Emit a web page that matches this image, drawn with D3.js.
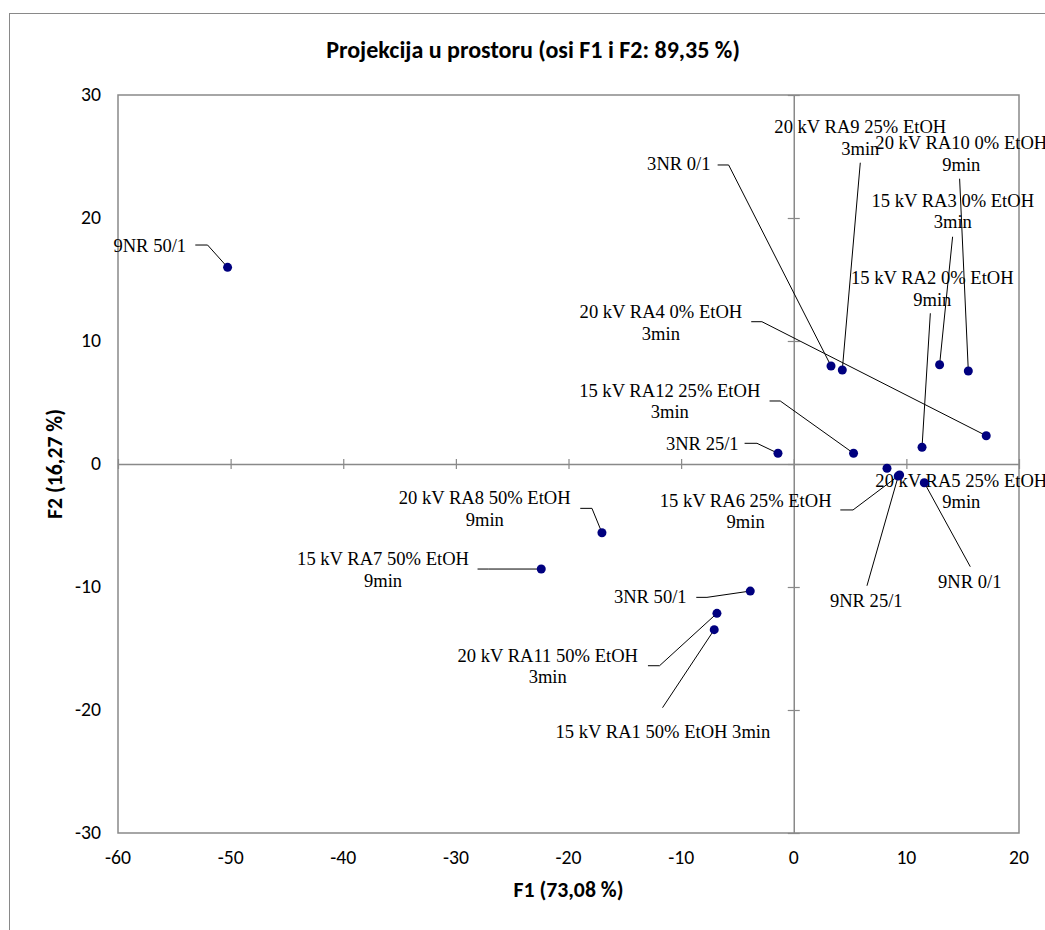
<!DOCTYPE html>
<html><head><meta charset="utf-8">
<script src="https://cdn.jsdelivr.net/npm/d3@7"></script>
<style>body{margin:0;background:#fff}</style></head>
<body>
<svg id="c" width="1045" height="930"></svg>
<script>
// ---- data ----
const labels = [
  "9NR 50/1", "3NR 0/1", "20 kV RA9 25% EtOH|3min", "20 kV RA10 0% EtOH|9min",
  "15 kV RA3 0% EtOH|3min", "15 kV RA2 0% EtOH|9min", "20 kV RA4 0% EtOH|3min",
  "15 kV RA12 25% EtOH|3min", "3NR 25/1", "20 kV RA5 25% EtOH|9min",
  "15 kV RA6 25% EtOH|9min", "9NR 25/1", "9NR 0/1", "20 kV RA8 50% EtOH|9min",
  "15 kV RA7 50% EtOH|9min", "3NR 50/1", "20 kV RA11 50% EtOH|3min", "15 kV RA1 50% EtOH 3min"
];
const f1 = [-50.27, 3.31, 4.31, 15.50, 12.95, 11.39, 17.09, 5.31, -1.40, 8.28, 9.40, 9.28, 11.59, -17.03, -22.42, -3.86, -6.82, -7.06];
const f2 = [15.99, 7.97, 7.64, 7.56, 8.07, 1.36, 2.30, 0.87, 0.87, -0.35, -0.89, -0.98, -1.52, -5.59, -8.54, -10.33, -12.14, -13.47];
const xTicks = [-60, -50, -40, -30, -20, -10, 0, 10, 20];
const yTicks = [-30, -20, -10, 0, 10, 20, 30];
const titleText = "Projekcija u prostoru (osi F1 i F2: 89,35 %)";
const xTitleText = "F1 (73,08 %)";
const yTitleText = "F2 (16,27 %)";

// ---- label layout (pixel offsets relative to each point) ----
const labelLayout = [
  {lab: [-77.8, -15.6], lead: [[-32.3, -22.3], [-20, -22.3]]},
  {lab: [-152.2, -196], lead: [[-113.4, -201], [-102.4, -201]]},
  {lab: [18, -236.7], lead: [[18, -207.3]]},
  {lab: [-7, -221.7], lead: [[-8.7, -192.3]]},
  {lab: [13.2, -158], lead: [[13, -128]]},
  {lab: [10.3, -163], lead: [[8.3, -134]]},
  {lab: [-325.3, -117.4], lead: [[-235, -114], [-224.3, -114]]},
  {lab: [-183.8, -56.6], lead: [[-84, -52.3], [-73.3, -52.3]]},
  {lab: [-75.7, -3.3], lead: [[-33.4, -10], [-21, -10]]},
  {lab: [74.3, 18.4], lead: []},
  {lab: [-154, 31.7], lead: [[-59.3, 35], [-46.6, 35]]},
  {lab: [-32, 130.7], lead: [[-31.3, 109.7]]},
  {lab: [45.5, 105], lead: [[46, 84]]},
  {lab: [-117.2, -28.7], lead: [[-21.7, -24.4], [-10, -24.4]]},
  {lab: [-158.2, -4], lead: [[-63.7, 0], [-53, 0]]},
  {lab: [-100, 12.3], lead: [[-54, 6.3], [-43.3, 6.3]]},
  {lab: [-169.2, 48.4], lead: [[-69, 52.4], [-57.4, 52.4]]},
  {lab: [-51.3, 108.6], lead: [[-51.7, 78]]}
];

const svg = d3.select("#c");
const sansFont = "Carlito, Lato, 'Open Sans', sans-serif";
const serifFont = "'Liberation Serif', 'Times New Roman', serif";
const gray = "#898989";

const x = d3.scaleLinear().domain([-60, 20]).range([118, 1019]);
const y = d3.scaleLinear().domain([-30, 30]).range([833, 95]);

function fit(sel, target) {
  sel.style("font-size", "20px");
  const w = sel.node().getComputedTextLength();
  const fs = 20 * target / w;
  sel.style("font-size", fs + "px");
  return fs;
}

// outer chart border
svg.append("rect").attr("x", 9.5).attr("y", 13.5).attr("width", 1100).attr("height", 1000)
  .attr("fill", "none").attr("stroke", gray).attr("stroke-width", 1);

// title
const t = svg.append("text").attr("x", 533).attr("y", 58).attr("text-anchor", "middle")
  .attr("font-family", sansFont).attr("font-weight", "bold").attr("fill", "#000").text(titleText);
fit(t, 414);

// plot frame
svg.append("rect").attr("x", x(-60)).attr("y", y(30)).attr("width", x(20) - x(-60)).attr("height", y(-30) - y(30))
  .attr("fill", "none").attr("stroke", gray).attr("stroke-width", 1.5);

// zero axes with cross ticks
const xAxisG = svg.append("g").attr("transform", `translate(0,${y(0)})`)
  .call(d3.axisBottom(x).tickValues(xTicks).tickSize(0).tickFormat(""));
xAxisG.select(".domain").attr("stroke", gray).attr("stroke-width", 1.5);
xAxisG.selectAll(".tick line").remove();
xAxisG.selectAll(".tick").append("line").attr("y1", -5).attr("y2", 5).attr("stroke", gray).attr("stroke-width", 1.2);

const yAxisG = svg.append("g").attr("transform", `translate(${x(0)},0)`)
  .call(d3.axisLeft(y).tickValues(yTicks).tickSize(0).tickFormat(""));
yAxisG.select(".domain").attr("stroke", gray).attr("stroke-width", 1.5);
yAxisG.selectAll(".tick line").remove();
yAxisG.selectAll(".tick").append("line").attr("x1", -6).attr("x2", 6).attr("stroke", gray).attr("stroke-width", 1.2);

// tick labels (low position)
const probe = svg.append("text").attr("font-family", sansFont).text("-20");
const tickFs = fit(probe, 26);
probe.remove();

svg.append("g").selectAll("text").data(xTicks).join("text")
  .attr("x", d => x(d)).attr("y", 863.5).attr("text-anchor", "middle")
  .attr("font-family", sansFont).style("font-size", tickFs + "px").attr("fill", "#000")
  .text(d => d);

svg.append("g").selectAll("text").data(yTicks).join("text")
  .attr("x", 101).attr("y", d => y(d) + 6).attr("text-anchor", "end")
  .attr("font-family", sansFont).style("font-size", tickFs + "px").attr("fill", "#000")
  .text(d => d);

// axis titles
const xt = svg.append("text").attr("x", (x(-60) + x(20)) / 2).attr("y", 897).attr("text-anchor", "middle")
  .attr("font-family", sansFont).attr("font-weight", "bold").attr("fill", "#000").text(xTitleText);
const axFs = fit(xt, 110);
svg.append("text").attr("transform", `translate(62,${y(0)}) rotate(-90)`).attr("text-anchor", "middle")
  .attr("font-family", sansFont).attr("font-weight", "bold").style("font-size", axFs + "px")
  .attr("fill", "#000").text(yTitleText);

// data
const pts = labels.map((l, i) => ({label: l, px: x(f1[i]), py: y(f2[i]), lay: labelLayout[i]}));

// label font size fitted to the reference width of one label
const lprobe = svg.append("text").attr("font-family", serifFont).text("20 kV RA9 25% EtOH");
const labFs = fit(lprobe, 172);
lprobe.remove();

// labels
const lg = svg.append("g");
pts.forEach(p => {
  const lines = p.label.split("|");
  const tx = lg.append("text").attr("x", p.px + p.lay.lab[0]).attr("y", p.py + p.lay.lab[1])
    .attr("text-anchor", "middle").attr("font-family", serifFont)
    .style("font-size", labFs + "px").attr("fill", "#000");
  lines.forEach((ln, k) => {
    tx.append("tspan").attr("x", p.px + p.lay.lab[0]).attr("y", p.py + p.lay.lab[1] + k * 21.5).text(ln);
  });
});

// leader lines
const line = d3.line();
svg.append("g").selectAll("path").data(pts.filter(p => p.lay.lead.length)).join("path")
  .attr("d", p => line(p.lay.lead.map(o => [p.px + o[0], p.py + o[1]]).concat([[p.px, p.py]])))
  .attr("fill", "none").attr("stroke", "#000").attr("stroke-width", 1);

// points
svg.append("g").selectAll("circle").data(pts).join("circle")
  .attr("cx", p => p.px).attr("cy", p => p.py).attr("r", 4.5)
  .attr("fill", "#00007f");
</script>
</body></html>
